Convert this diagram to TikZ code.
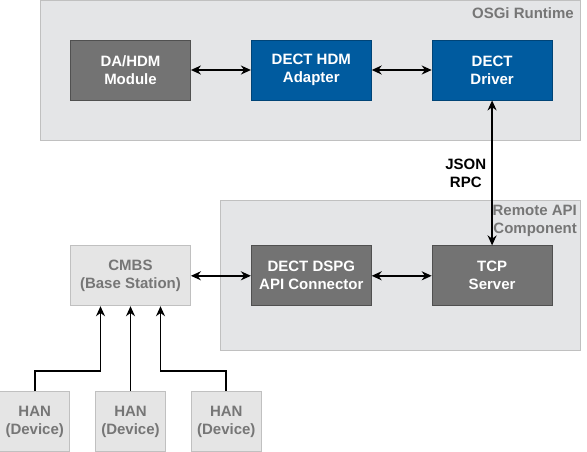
\documentclass[tikz,border=0pt]{standalone}
\usepackage{fontspec}
\setmainfont{Liberation Sans}
\usepackage{tikz}
\usetikzlibrary{arrows.meta, positioning, fit, backgrounds}
\definecolor{runtimegray}{RGB}{228,229,231}
\definecolor{framegray}{RGB}{192,192,192}
\definecolor{modulegray}{RGB}{115,115,115}
\definecolor{hdmblue}{RGB}{0,91,159}
\definecolor{lightbox}{RGB}{229,229,229}
\definecolor{labelgray}{RGB}{118,118,118}

\begin{document}
\begin{tikzpicture}[
    x=1pt, y=-1pt,
    node distance=60pt,
    font=\bfseries\fontsize{15}{18}\selectfont,
    box/.style={draw, line width=0.8pt, minimum width=120pt, minimum height=60pt, align=center, text=white},
    darkbox/.style={box, fill=modulegray, draw=modulegray!70!black},
    bluebox/.style={box, fill=hdmblue, draw=hdmblue!75!black},
    greybox/.style={box, fill=lightbox, draw=framegray, text=labelgray},
    device/.style={greybox, minimum width=70pt},
    group/.style={draw=framegray, fill=runtimegray, line width=0.8pt, inner sep=0pt},
    grouplabel/.style={anchor=north east, inner sep=0pt, align=right, text=labelgray},
    >={Stealth[length=10pt, width=9pt]},
    arrow/.style={->, line width=1.8pt},
    biarrow/.style={<->, line width=1.8pt}
]
    \useasboundingbox (0,0) rectangle (587,451);

    % Runtime layer
    \node[darkbox] (dahdm) at (130.5,70) {DA/HDM\\Module};
    \node[bluebox, right=of dahdm] (adapter) {DECT HDM\\Adapter};
    \node[bluebox, right=of adapter] (driver) {DECT\\Driver};

    % Remote side
    \node[greybox, below=145pt of dahdm] (cmbs) {CMBS\\(Base Station)};
    \node[darkbox, right=of cmbs] (connector) {DECT DSPG\\API Connector};
    \node[darkbox, right=of connector] (tcp) {TCP\\Server};

    % Devices
    \node[device, below=85pt of cmbs] (han2) {HAN\\(Device)};
    \node[device, left=25pt of han2] (han1) {HAN\\(Device)};
    \node[device, right=25pt of han2] (han3) {HAN\\(Device)};

    % Groups
    \begin{scope}[on background layer]
        \node[group, fit={(40,0) (580,140)}] (osgi) {};
        \node[group, fit={(220,200) (580,350)}] (remote) {};
    \end{scope}
    \node[grouplabel] (osgilabel) at (574,7) {OSGi Runtime};
    \node[grouplabel] (remotelabel) at (577,205) {Remote API\\Component};

    % Arrows
    \draw[biarrow] (dahdm) -- (adapter);
    \draw[biarrow] (adapter) -- (driver);
    \draw[biarrow] (driver) -- node[left, inner sep=5pt, align=center] {JSON\\RPC} (tcp);
    \draw[biarrow] (cmbs) -- (connector);
    \draw[biarrow] (connector) -- (tcp);
    \draw[arrow] (han1.north) -- ++(0,-20) -| ([xshift=-30pt]cmbs.south);
    \draw[arrow] (han2) -- (cmbs);
    \draw[arrow] (han3.north) -- ++(0,-20) -| ([xshift=30pt]cmbs.south);
\end{tikzpicture}
\end{document}
